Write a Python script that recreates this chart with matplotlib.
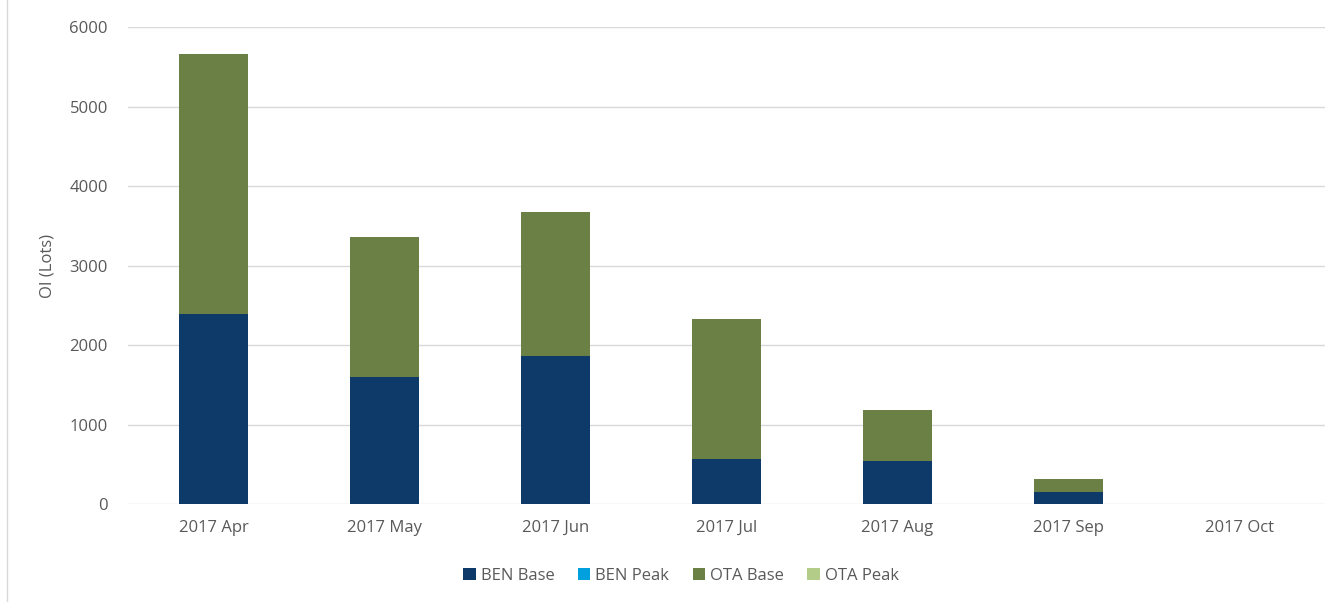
import matplotlib.pyplot as plt
import numpy as np
from matplotlib.patches import Patch
from matplotlib.lines import Line2D

months = ['2017 Apr', '2017 May', '2017 Jun', '2017 Jul', '2017 Aug', '2017 Sep', '2017 Oct']
ben_base = [2395, 1605, 1868, 576, 540, 150, 0]
ben_peak = [0, 0, 0, 0, 0, 0, 0]
ota_base = [3270, 1757, 1808, 1756, 646, 170, 0]
ota_peak = [0, 0, 0, 0, 0, 0, 0]

series = [
    ('BEN Base', ben_base, '#0e3a6a'),
    ('BEN Peak', ben_peak, '#00a0df'),
    ('OTA Base', ota_base, '#6b8045'),
    ('OTA Peak', ota_peak, '#b3cc88'),
]

plt.rcParams['font.family'] = ['Open Sans', 'DejaVu Sans']
text_color = '#595959'
fsize = 12

fig = plt.figure(figsize=(13.41, 6.02), dpi=100)
ax = fig.add_axes([0.0955, 0.1623, 0.8925, 0.7924])

x = np.arange(len(months))
bottom = np.zeros(len(months))
for name, vals, color in series:
    vals = np.array(vals, dtype=float)
    ax.bar(x, vals, width=0.4, bottom=bottom, color=color, label=name,
           edgecolor='none', zorder=3)
    bottom += vals

ax.set_xlim(-0.5, len(months) - 0.5)
ax.set_ylim(0, 6000)
ax.set_yticks(np.arange(0, 6001, 1000))
ax.set_xticks(x)
ax.set_xticklabels(months)
ax.tick_params(axis='both', length=0, labelsize=fsize, colors=text_color)
ax.tick_params(axis='x', pad=11)
ax.tick_params(axis='y', pad=14.5)
ax.set_ylabel('OI (Lots)', fontsize=fsize, color=text_color, labelpad=10)
ax.grid(axis='y', color='#d9d9d9', linewidth=1.0, zorder=0)
for s in ax.spines.values():
    s.set_visible(False)

handles = [Patch(facecolor=c, edgecolor='none', label=n) for n, _, c in series]
fig.legend(handles=handles, loc='center', bbox_to_anchor=(681 / 1341, 1 - 576 / 602),
           ncol=4, frameon=False, fontsize=fsize, handlelength=0.75, handleheight=0.75,
           handletextpad=0.3, columnspacing=1.4, labelcolor=text_color)

fig.add_artist(Line2D([6.5 / 1341, 6.5 / 1341], [0, 1], color='#d9d9d9', linewidth=1.0))

plt.savefig('out.png', dpi=100)
plt.close()
